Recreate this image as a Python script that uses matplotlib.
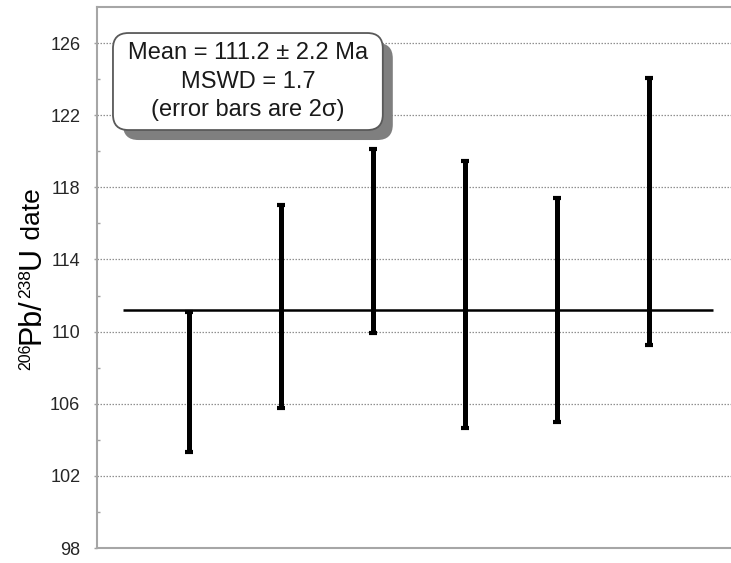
import numpy as np
import matplotlib.pyplot as plt
from matplotlib import patheffects
from matplotlib.patches import FancyBboxPatch
from matplotlib.transforms import IdentityTransform

plt.rcParams['font.family'] = ['Liberation Sans', 'DejaVu Sans']

# analyses (2 sigma error bar ends)
analysis = [1, 2, 3, 4, 5, 6]
low = [103.3, 105.75, 109.9, 104.65, 105.0, 109.25]
high = [111.1, 117.0, 120.1, 119.45, 117.4, 124.05]
mean_age = 111.2
yticks = [98, 102, 106, 110, 114, 118, 122, 126]
box_txt = 'Mean = 111.2 ± 2.2 Ma\nMSWD = 1.7\n(error bars are 2σ)'
# y label pieces: text, font size, superscript?
label_parts = [('206', 11.5, True), ('Pb/', 22, False), ('238', 12.5, True),
               ('U', 22, False), (' date', 19, False)]

low = np.array(low)
high = np.array(high)
mid = (low + high) / 2
half = (high - low) / 2

f = plt.figure(figsize=(7.31, 5.63), dpi=100)
ax = f.add_axes([97/731, 15/563, 644/731, 541/563])

ax.errorbar(analysis, mid, yerr=half, fmt='none', ecolor='black',
            elinewidth=3.6, capsize=2.6, capthick=3, zorder=3)
ax.hlines(mean_age, 0.28, 6.7, color='black', lw=1.8, zorder=2)

ax.set_xlim(0, 7)
ax.set_ylim(98, 128)
ax.set_yticks(yticks)
ax.set_yticks(np.arange(100, 126, 4), minor=True)
ax.set_xticks([])
ax.grid(axis='y', which='major', color='#909090', ls=(0, (1.2, 1.2)), lw=0.9)
ax.tick_params(axis='y', which='major', length=2, width=1, color='#a0a0a0',
               labelsize=13, labelcolor='#262626', pad=10)
ax.tick_params(axis='y', which='minor', direction='in', length=2.5, width=1,
               color='#a0a0a0')
for s in ['left', 'bottom', 'top']:
    ax.spines[s].set_color('#a6a6a6')
    ax.spines[s].set_linewidth(1.5)
ax.spines['right'].set_visible(False)

# y label built from pieces (pixel coords, baseline at x=39.5)
renderer = f.canvas.get_renderer()
ypos = 563 - 370
for txt, size, sup in label_parts:
    xb = 39.5 - (9.5 if sup else 0)
    tt = f.text(xb, ypos, txt, transform=IdentityTransform(), rotation=90,
                rotation_mode='anchor', ha='left', va='baseline',
                fontsize=size, color='black')
    ypos += tt.get_window_extent(renderer).height

# summary box with shadow
box = FancyBboxPatch((0.0248, 0.7726), 0.419, 0.1793, transform=ax.transAxes,
                     boxstyle='round,pad=0,rounding_size=0.024', mutation_aspect=1.19,
                     fc='white', ec='#595959', lw=1.3, zorder=5)
box.set_path_effects([
    patheffects.SimplePatchShadow(offset=(7.2, -7.2), shadow_rgbFace='#7f7f7f', alpha=1),
    patheffects.Normal()])
ax.add_patch(box)
ax.text(0.2344, 0.862, box_txt, transform=ax.transAxes, ha='center', va='center',
        fontsize=17, linespacing=1.38, color='#1a1a1a', zorder=6)

f.savefig('out.png', dpi=100)
